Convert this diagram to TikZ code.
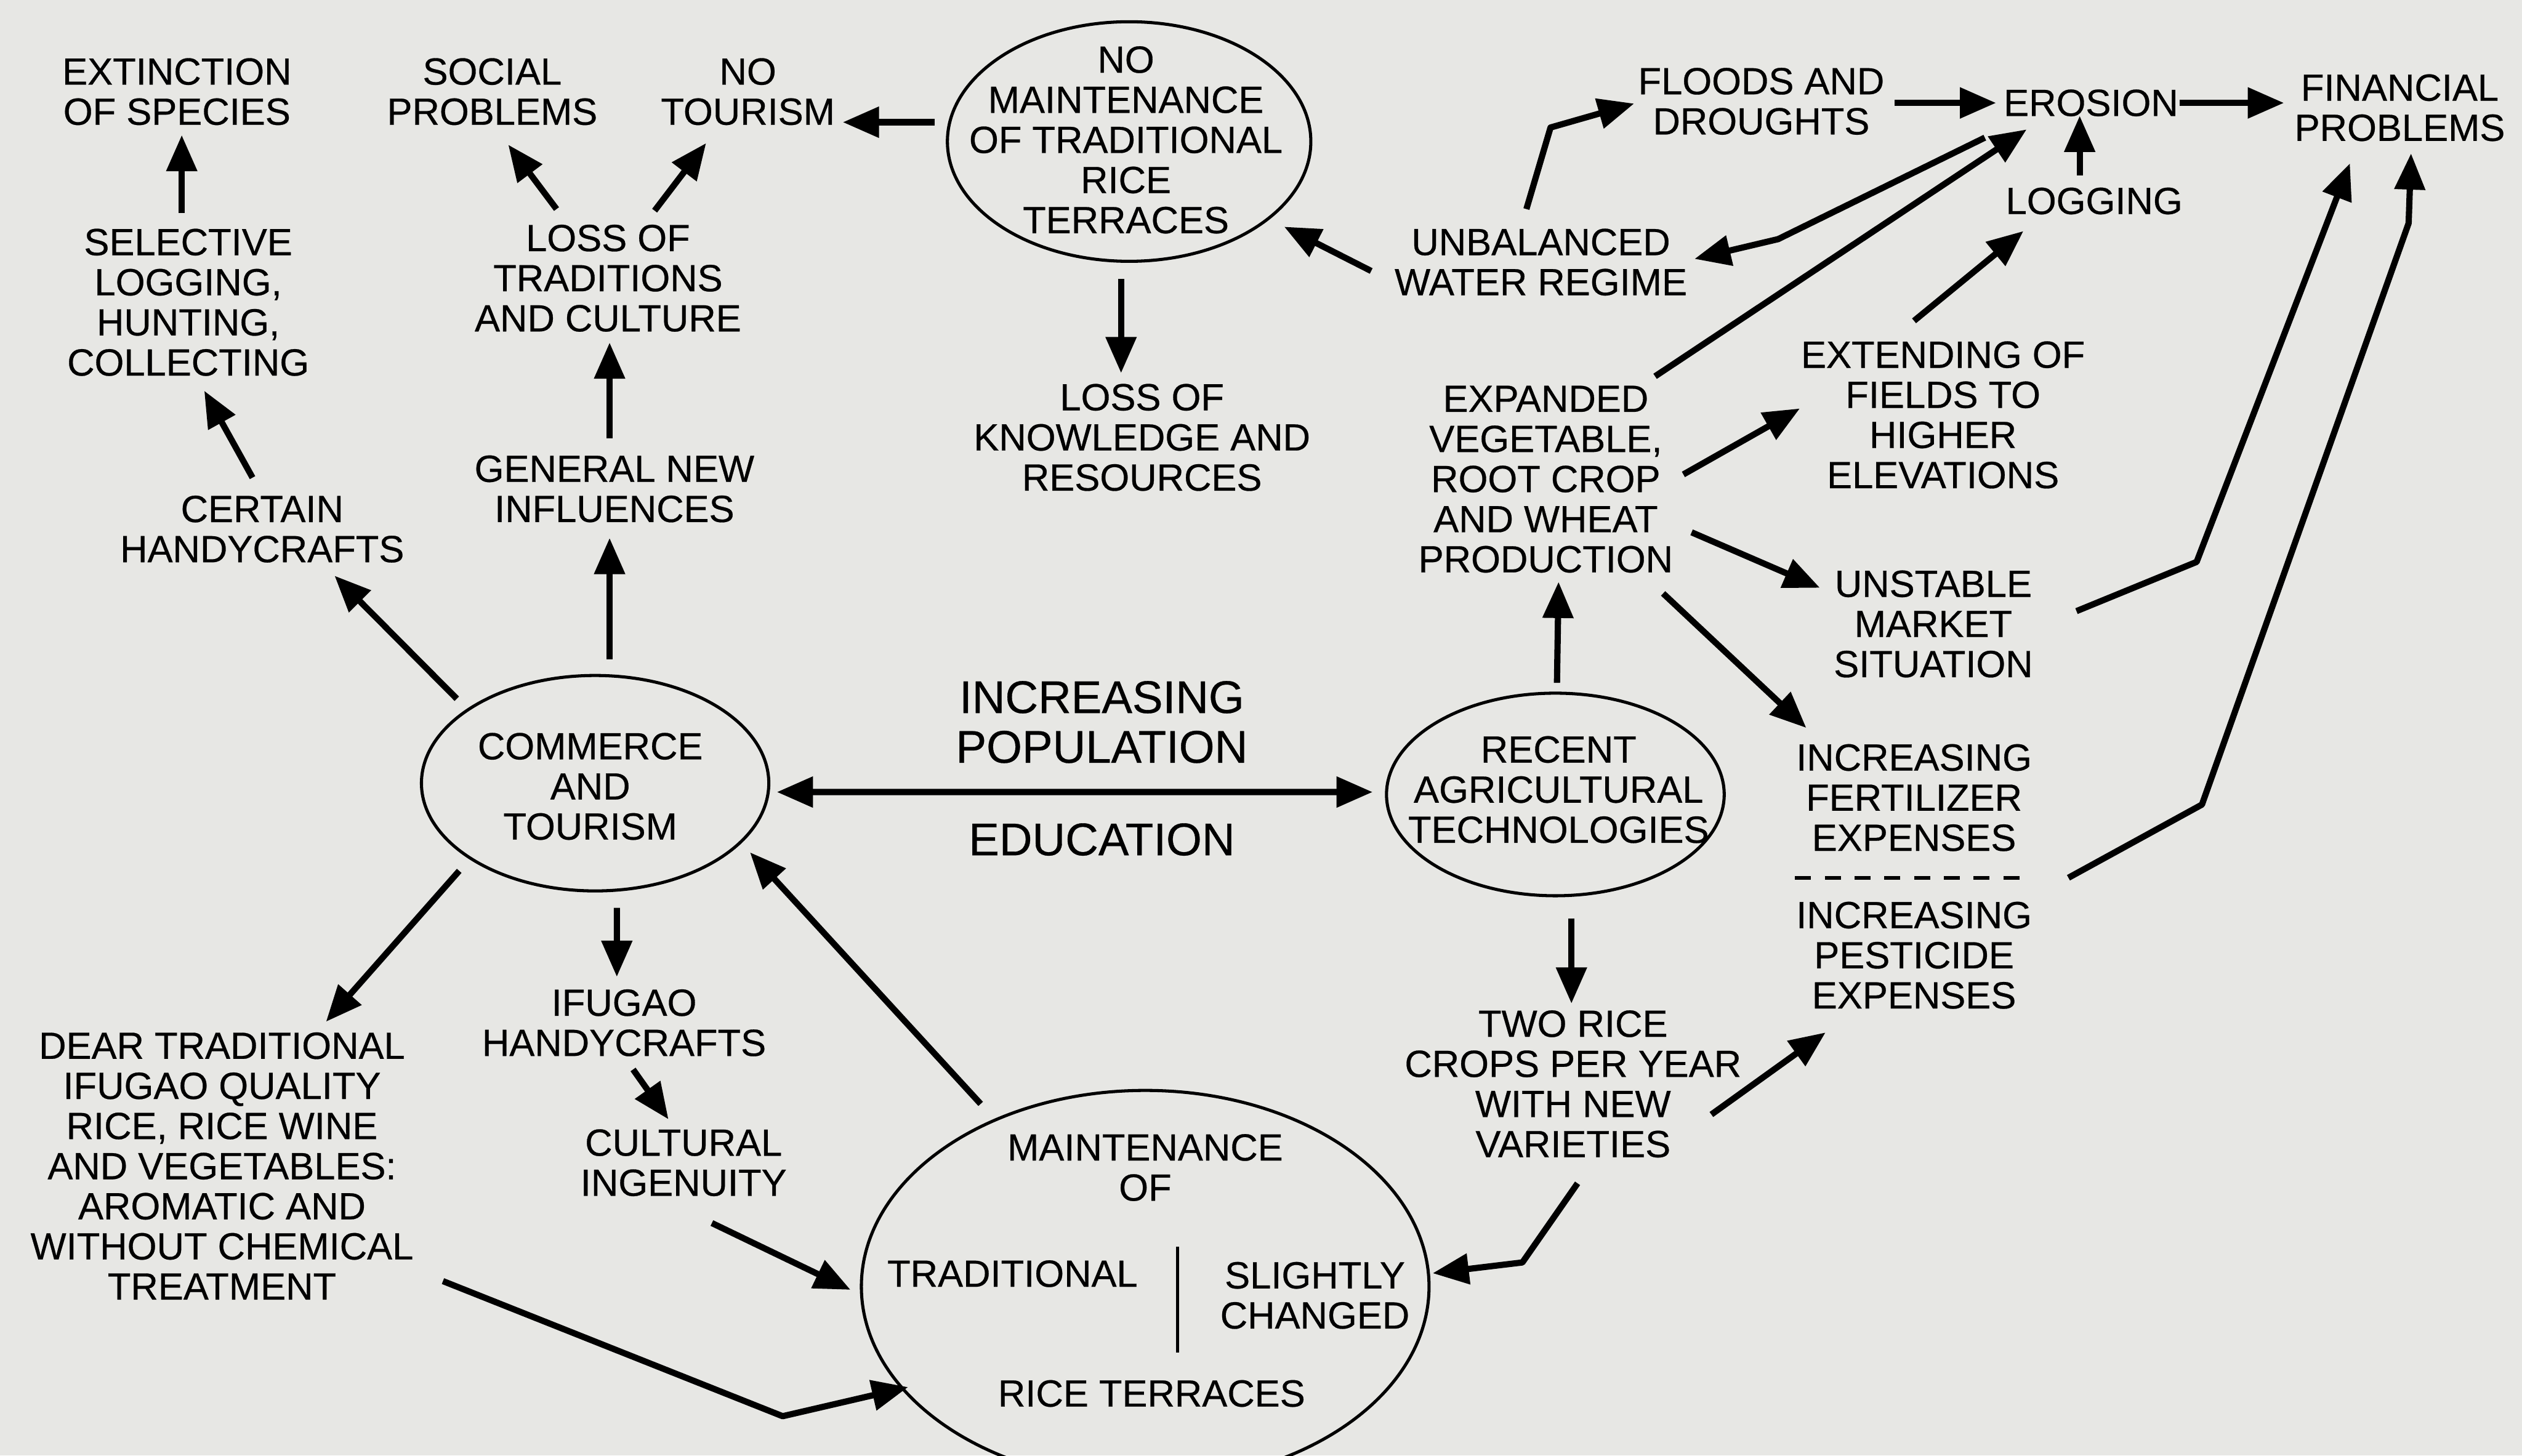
\documentclass[tikz,border=0pt]{standalone}
\usepackage{fontspec}
\setmainfont{Liberation Sans}[FakeBold=0.45]
\usetikzlibrary{shapes.geometric,arrows.meta,calc}
\definecolor{paper}{RGB}{231,231,228}

\begin{document}
\begin{tikzpicture}[x=0.02cm,y=-0.02cm,
    >={Triangle[length=0.45cm,width=0.37cm]},
    lbl/.style={align=center,inner sep=0pt,font=\fontsize{13.4}{14.2}\selectfont},
    big/.style={lbl,font=\fontsize{16.2}{17.6}\selectfont},
    oval/.style={ellipse,draw,line width=1.1pt,inner sep=0pt},
    arr/.style={->,line width=2.2pt,line join=round}]

    \clip (0,0) rectangle (1568,905);
    \fill[paper] (0,0) rectangle (1568,905);

    % Ellipses %
    \node[oval,minimum width=4.52cm,minimum height=2.98cm] (nomaint) at (702,88) {};
    \node[oval,minimum width=4.32cm,minimum height=2.68cm] (commerce) at (370,487) {};
    \node[oval,minimum width=4.2cm,minimum height=2.52cm] (recent) at (967,494) {};
    \node[oval,minimum width=7.06cm,minimum height=4.88cm] (maint) at (712,800) {};

    % Texts %
    \node[lbl] (extinct) at (110,57) {EXTINCTION\\OF SPECIES};
    \node[lbl] (social) at (306,57) {SOCIAL\\PROBLEMS};
    \node[lbl] (notour) at (465,57) {NO\\TOURISM};
    \node[lbl] (nomaintTxt) at (700,87) {NO\\MAINTENANCE\\OF TRADITIONAL\\RICE\\TERRACES};
    \node[lbl] (floods) at (1095,63) {FLOODS AND\\DROUGHTS};
    \node[lbl] (erosion) at (1300,64) {EROSION};
    \node[lbl] (financial) at (1492,67) {FINANCIAL\\PROBLEMS};
    \node[lbl] (logging) at (1302,125) {LOGGING};
    \node[lbl] (unbal) at (958,163) {UNBALANCED\\WATER REGIME};
    \node[lbl] (selective) at (117,188) {SELECTIVE\\LOGGING,\\HUNTING,\\COLLECTING};
    \node[lbl] (lossTrad) at (378,173) {LOSS OF\\TRADITIONS\\AND CULTURE};
    \node[lbl] (lossKnow) at (710,272) {LOSS OF\\KNOWLEDGE AND\\RESOURCES};
    \node[lbl] (expanded) at (961,298) {EXPANDED\\VEGETABLE,\\ROOT CROP\\AND WHEAT\\PRODUCTION};
    \node[lbl] (extending) at (1208,258) {EXTENDING OF\\FIELDS TO\\HIGHER\\ELEVATIONS};
    \node[lbl] (certain) at (163,329) {CERTAIN\\HANDYCRAFTS};
    \node[lbl] (general) at (382,304) {GENERAL NEW\\INFLUENCES};
    \node[lbl] (unstable) at (1202,388) {UNSTABLE\\MARKET\\SITUATION};
    \node[big] (incPop) at (685,449) {INCREASING\\POPULATION};
    \node[big] (educ) at (685,522) {EDUCATION};
    \node[lbl] (commerceTxt) at (367,489) {COMMERCE\\AND\\TOURISM};
    \node[lbl] (recentTxt) at (969,491) {RECENT\\AGRICULTURAL\\TECHNOLOGIES};
    \node[lbl] (fert) at (1190,496) {INCREASING\\FERTILIZER\\EXPENSES};
    \node[lbl] (pest) at (1190,594) {INCREASING\\PESTICIDE\\EXPENSES};
    \node[lbl] (twoRice) at (978,674) {TWO RICE\\CROPS PER YEAR\\WITH NEW\\VARIETIES};
    \node[lbl] (ifugao) at (388,636) {IFUGAO\\HANDYCRAFTS};
    \node[lbl] (cultural) at (425,723) {CULTURAL\\INGENUITY};
    \node[lbl] (dear) at (138,725) {DEAR TRADITIONAL\\IFUGAO QUALITY\\RICE, RICE WINE\\AND VEGETABLES:\\AROMATIC AND\\WITHOUT CHEMICAL\\TREATMENT};
    \node[lbl] (maintOf) at (712,726) {MAINTENANCE\\OF};
    \node[lbl] (trad) at (629.5,792) {TRADITIONAL};
    \node[lbl] (slightly) at (817.5,805.5) {SLIGHTLY\\CHANGED};
    \node[lbl] (riceTer) at (716,866.5) {RICE TERRACES};

    % Divider and dashes %
    \draw[line width=1.1pt] ($(maint)+(20,-25)$) -- ($(maint)+(20,41)$);
    \draw[line width=1.3pt,dash pattern=on 0.2cm off 0.17cm] ($(fert)+(-74,50)$) -- ($(fert)+(70,50)$);

    % Left part %
    \draw[arr] ($(nomaint)+(-121,-12)$) -- ($(notour)+(59,19)$);
    \draw[arr] ($(selective)+(-4,-55.5)$) -- ($(extinct)+(3,27)$);
    \draw[arr] ($(lossTrad)+(-32,-43)$) -- ($(social)+(10,33)$);
    \draw[arr] ($(lossTrad)+(29,-42)$) -- ($(notour)+(-26,32)$);
    \draw[arr] ($(general)+(-3,-31.4)$) -- ($(lossTrad)+(1,40)$);
    \draw[arr] ($(certain)+(-6,-32)$) -- ($(selective)+(10,55)$);
    \draw[arr] ($(commerce)+(-86,-52.5)$) -- ($(certain)+(45,29)$);
    \draw[arr] ($(commerce)+(9,-77)$) -- ($(general)+(-3,30.5)$);
    \draw[arr] ($(nomaint)+(-5,85.5)$) -- ($(lossKnow)+(-13,-40)$);
    \draw[arr] ($(unbal)+(-105.5,5.5)$) -- ($(nomaint)+(96.4,53)$);

    % Erosion part %
    \draw[arr] ($(unbal)+(-9,-33)$) -- ($(unbal)+(6,-83.7)$) -- ($(floods)+(-79,1.4)$);
    \draw[arr] ($(floods)+(83,1)$) -- ($(erosion)+(-59,0)$);
    \draw[arr] ($(erosion)+(55,0)$) -- ($(financial)+(-72,-3)$);
    \draw[arr] ($(logging)+(-9,-16)$) -- ($(erosion)+(-7,8)$);
    \draw[arr] ($(erosion)+(-66,21.6)$) -- ($(unbal)+(147.5,-14.3)$) -- ($(unbal)+(95.5,-2)$);
    \draw[arr] ($(expanded)+(68,-64)$) -- ($(erosion)+(-40,16.5)$);
    \draw[arr] ($(extending)+(-18,-58.5)$) -- ($(logging)+(-44,18.7)$);
    \draw[arr] ($(expanded)+(85.6,-3)$) -- ($(extending)+(-89,-4)$);
    \draw[arr] ($(expanded)+(90.7,33)$) -- ($(unstable)+(-70.5,-22.5)$);
    \draw[arr] ($(expanded)+(73,71)$) -- ($(fert)+(-67,-43.4)$);
    \draw[arr] ($(unstable)+(89,-8)$) -- ($(unstable)+(163.7,-38.6)$) -- ($(financial)+(-31,34.6)$);
    \draw[arr] ($(fert)+(96,49.8)$) -- ($(fert)+(179,4.3)$) -- ($(financial)+(5.5,71.8)$) -- ($(financial)+(7,28.4)$);

    % Centre and bottom %
    \draw[arr] ($(recent)+(1,-69.4)$) -- ($(expanded)+(8,63.8)$);
    \draw[arr] ($(recent)+(10,77)$) -- ($(twoRice)+(-1,-50)$);
    \draw[arr] ($(twoRice)+(86,19)$) -- ($(pest)+(-55,48)$);
    \draw[arr] ($(twoRice)+(2.8,61.8)$) -- ($(maint)+(234.5,-15)$) -- ($(maint)+(178.7,-8.3)$);
    \draw[arr,<->] ($(commerce)+(113,5.5)$) -- ($(recent)+(-113.6,-1.5)$);
    \draw[arr] ($(maint)+(-102.3,-113.6)$) -- ($(commerce)+(96.3,43)$);
    \draw[arr] ($(commerce)+(-84.5,54.5)$) -- ($(dear)+(64.7,-89.7)$);
    \draw[arr] ($(commerce)+(13.5,77.5)$) -- ($(ifugao)+(-4.5,-28.6)$);
    \draw[arr] ($(ifugao)+(5.6,29)$) -- ($(cultural)+(-9.4,-27)$);
    \draw[arr] ($(cultural)+(17.6,37.5)$) -- ($(maint)+(-183.2,2)$);
    \draw[arr] ($(dear)+(137.4,71.6)$) -- ($(maint)+(-225.4,80.6)$) -- ($(maint)+(-147.4,62.5)$);

\end{tikzpicture}
\end{document}
